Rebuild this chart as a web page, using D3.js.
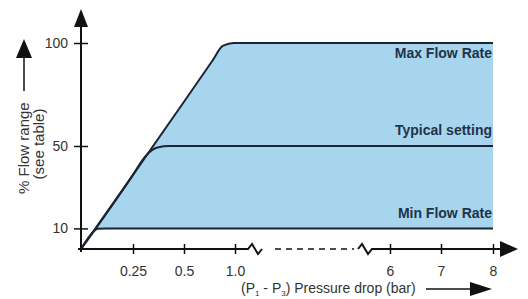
<!DOCTYPE html>
<html>
<head>
<meta charset="utf-8">
<script src="https://cdn.jsdelivr.net/npm/d3@7"></script>
<style>
  body { margin: 0; background: #fff; }
  svg { display: block; font-family: "Liberation Sans", Arial, sans-serif; }
</style>
</head>
<body>
<div class="svg-container"></div>
<script>
// tick values on each axis
var xTicks = [0.25, 0.5, 1.0, 6, 7, 8],
    yTicks = [10, 50, 100];

// curves (x = pressure drop in bar, y = % flow)
var maxFlowX = [0, 0.25, 0.5, 0.78, 0.88, 0.99, 6, 8],
    maxFlowY = [0, 36, 71.5, 91.5, 98.6, 100, 100, 100];
var typicalX = [0, 0.25, 0.31, 0.37, 0.43, 6, 8],
    typicalY = [0, 36, 45, 49.3, 50, 50, 50];
var minFlowX = [0, 0.055, 0.08, 0.12, 6, 8],
    minFlowY = [0, 7.9, 9.8, 10, 10, 10];

var curveLabels = ["Max Flow Rate", "Typical setting", "Min Flow Rate"];

var W = 528, H = 299;

var svg = d3.select(".svg-container").append("svg")
    .attr("width", W)
    .attr("height", H);

// broken x axis: 0..1 bar stretched, then jump to 6..8 bar
var xScale = d3.scaleLinear()
    .domain([0, 0.25, 0.5, 1.0, 6, 7, 8])
    .range([81, 133, 184, 235, 390, 441, 493]);

var yScale = d3.scaleLinear()
    .domain([0, 100])
    .range([249, 43]);

function zip(xs, ys) {
    return xs.map(function (x, i) { return [x, ys[i]]; });
}

var maxPts = zip(maxFlowX, maxFlowY),
    typPts = zip(typicalX, typicalY),
    minPts = zip(minFlowX, minFlowY);

var line = d3.line()
    .curve(d3.curveMonotoneX)
    .x(function (d) { return xScale(d[0]); })
    .y(function (d) { return yScale(d[1]); });

// blue band between max and min flow
var fillPath = line(maxPts) + "L" + line(minPts.slice().reverse()).slice(1) + "Z";
svg.append("path")
    .attr("d", fillPath)
    .attr("fill", "#a8d5ee")
    .attr("stroke", "none");

var ink = "#1b2533";

[maxPts, typPts, minPts].forEach(function (pts) {
    svg.append("path")
        .attr("d", line(pts))
        .attr("fill", "none")
        .attr("stroke", ink)
        .attr("stroke-width", 2);
});

// curve labels, right aligned at the end of the lines
// max label sits under its line, the other two above
var labelVals = [100, 50, 10],
    labelDy = [15, -11, -10];
svg.selectAll(".curve-label")
    .data(curveLabels)
    .enter().append("text")
    .attr("class", "curve-label")
    .attr("x", xScale(8) - 1)
    .attr("y", function (d, i) { return yScale(labelVals[i]) + labelDy[i]; })
    .attr("text-anchor", "end")
    .attr("font-size", "14px")
    .attr("font-weight", "bold")
    .attr("fill", "#1f3348")
    .text(function (d) { return d; });

// ---- x axis ----
var axisY = yScale(0);
var xAxis = svg.append("g")
    .attr("class", "axis axis--x")
    .attr("transform", "translate(0," + axisY + ")")
    .call(d3.axisBottom(xScale)
        .tickValues(xTicks)
        .tickSize(5)
        .tickPadding(12)
        .tickFormat(function (d) { return d === 1 ? "1.0" : d; }));
xAxis.select(".domain").remove();
xAxis.selectAll(".tick line")
    .attr("y1", -5).attr("y2", 5)
    .attr("stroke", "#111").attr("stroke-width", 1.5);
xAxis.selectAll(".tick text")
    .attr("font-size", "14px")
    .attr("fill", "#333")
    .attr("font-family", "Liberation Sans, Arial, sans-serif");

var x1 = xScale(1), x6 = xScale(6);
var ax = svg.append("g").attr("fill", "none").attr("stroke", "#111").attr("stroke-width", 2);
// left part and first zigzag
ax.append("path").attr("d",
    "M" + (xScale(0) - 3) + "," + axisY + "H" + (x1 + 13) +
    "L" + (x1 + 17) + "," + (axisY - 5) +
    "L" + (x1 + 23) + "," + (axisY + 5) +
    "L" + (x1 + 27) + "," + axisY);
// dashed gap
ax.append("line")
    .attr("x1", x1 + 40).attr("x2", x6 - 36)
    .attr("y1", axisY).attr("y2", axisY)
    .attr("stroke-width", 1.5)
    .attr("stroke-dasharray", "6,5");
// second zigzag and right part
ax.append("path").attr("d",
    "M" + (x6 - 32) + "," + axisY +
    "L" + (x6 - 28) + "," + (axisY - 5) +
    "L" + (x6 - 22) + "," + (axisY + 5) +
    "L" + (x6 - 18) + "," + axisY + "H" + 502);
svg.append("path")
    .attr("d", "M518," + axisY + "L500," + (axisY - 8) + "L500," + (axisY + 8) + "Z")
    .attr("fill", "#111");

// ---- y axis ----
var x0 = xScale(0);
var yAxis = svg.append("g")
    .attr("class", "axis axis--y")
    .attr("transform", "translate(" + x0 + ",0)")
    .call(d3.axisLeft(yScale)
        .tickValues(yTicks)
        .tickSize(7)
        .tickPadding(6));
yAxis.select(".domain").remove();
yAxis.selectAll(".tick line")
    .attr("x1", -7).attr("x2", 7)
    .attr("stroke", "#111").attr("stroke-width", 1.5);
yAxis.selectAll(".tick text")
    .attr("font-size", "14px")
    .attr("fill", "#333")
    .attr("font-family", "Liberation Sans, Arial, sans-serif");

svg.append("line")
    .attr("x1", x0).attr("x2", x0)
    .attr("y1", axisY + 3).attr("y2", 26)
    .attr("stroke", "#111").attr("stroke-width", 2);
svg.append("path")
    .attr("d", "M" + x0 + ",9L" + (x0 - 7) + ",27L" + (x0 + 7) + ",27Z")
    .attr("fill", "#111");

// ---- axis titles ----
var yTitle = svg.append("g").attr("fill", "#333").attr("font-size", "15px");
yTitle.append("text")
    .attr("transform", "translate(29,194) rotate(-90)")
    .attr("text-anchor", "start")
    .text("% Flow range");
yTitle.append("text")
    .attr("transform", "translate(44,144) rotate(-90)")
    .attr("text-anchor", "middle")
    .text("(see table)");
svg.append("line")
    .attr("x1", 24).attr("x2", 24)
    .attr("y1", 91).attr("y2", 55)
    .attr("stroke", "#111").attr("stroke-width", 1.5);
svg.append("path")
    .attr("d", "M24,39L16,58L32,58Z")
    .attr("fill", "#111");

var xTitle = svg.append("text")
    .attr("x", 241)
    .attr("y", 293)
    .attr("font-size", "14px")
    .attr("fill", "#333");
xTitle.append("tspan").text("(P");
xTitle.append("tspan").attr("font-size", "8px").attr("dy", 3).text("1");
xTitle.append("tspan").attr("dy", -3).text(" - P");
xTitle.append("tspan").attr("font-size", "8px").attr("dy", 3).text("3");
xTitle.append("tspan").attr("dy", -3).text(") Pressure drop (bar)");

svg.append("line")
    .attr("x1", 426).attr("x2", 472)
    .attr("y1", 289).attr("y2", 289)
    .attr("stroke", "#111").attr("stroke-width", 1.5);
svg.append("path")
    .attr("d", "M492,289L470,282L470,296Z")
    .attr("fill", "#111");
</script>
</body>
</html>
